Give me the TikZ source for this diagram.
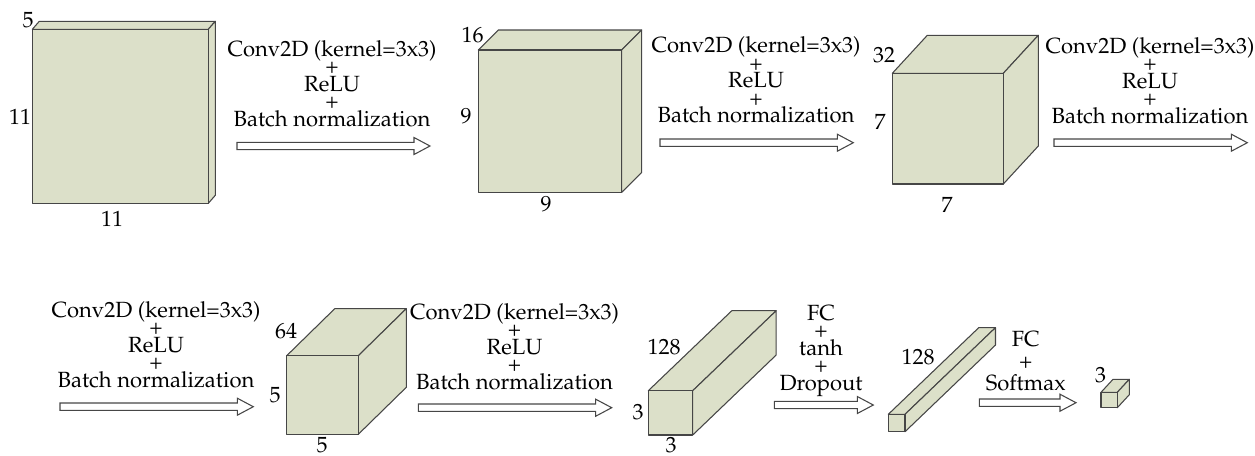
\documentclass[tikz,border=0pt]{standalone}
\usepackage[T1]{fontenc}
\usepackage{mathpazo}
\definecolor{boxfill}{RGB}{220,224,201}
\definecolor{edgegrey}{RGB}{70,70,70}
\tikzset{
  face/.style={fill=boxfill, draw=edgegrey, line width=0.8pt, line join=round},
  lbl/.style={font=\fontsize{16.5}{13.1}\selectfont, inner sep=0pt, align=center, anchor=south},
  lblwide/.style={lbl, font=\fontsize{16.5}{16.5}\selectfont},
  num/.style={font=\fontsize{16.5}{18}\selectfont, inner sep=0pt},
  fat/.style={fill=white, draw=edgegrey, line width=0.8pt, line join=miter}
}
% x y w h dx up
\newcommand\cuboid[6]{%
  \filldraw[face] (#1,#2) -- ++(#5,-#6) -- ++(#3,0) -- ++(-#5,#6) -- cycle;
  \filldraw[face] (#1+#3,#2) -- ++(#5,-#6) -- ++(0,#4) -- ++(-#5,#6) -- cycle;
  \filldraw[face] (#1,#2) rectangle ++(#3,#4);
}
% x1 x2 y
\newcommand\fatarrow[3]{%
  \draw[fat] (#1,#3-3.7) -- (#2-16,#3-3.7) -- (#2-16,#3-8.5) -- (#2,#3)
    -- (#2-16,#3+8.5) -- (#2-16,#3+3.7) -- (#1,#3+3.7) -- cycle;
}
\begin{document}
\lineskiplimit=-20pt
\begin{tikzpicture}[x=0.75pt,y=-0.75pt]
\useasboundingbox (0,0) rectangle (1255,455);

% ---- row 1 ----
\cuboid{32.3}{29.3}{176}{174}{7}{8}
\node[num] (c1d) at (28,20) {5};
\node[num] (c1h) at (20,117) {11};
\node[num] (c1w) at (112,219) {11};

\fatarrow{237}{430}{146}
\node[lbl] (l1) at (332,127) {Conv2D (kernel=3x3)\\+\\ReLU\\+\\Batch normalization};

\cuboid{478.3}{50}{143.4}{142.3}{20}{20}
\node[num] (c2d) at (472.5,35) {16};
\node[num] (c2h) at (466,116) {9};
\node[num] (c2w) at (546,204) {9};

\fatarrow{660}{853.3}{142.7}
\node[lbl] (l2) at (756,123.5) {Conv2D (kernel=3x3)\\+\\ReLU\\+\\Batch normalization};

\cuboid{892.3}{73.3}{111}{110.7}{35}{38}
\node[num] (c3d) at (884,55) {32};
\node[num] (c3h) at (880,122) {7};
\node[num] (c3w) at (947,205) {7};

\fatarrow{1054}{1247.3}{142.7}
\node[lbl] (l3) at (1150,124) {Conv2D (kernel=3x3)\\+\\ReLU\\+\\Batch normalization};

% ---- row 2 ----
\fatarrow{60}{253.3}{406.7}
\node[lbl] (l4) at (156,388) {Conv2D (kernel=3x3)\\+\\ReLU\\+\\Batch normalization};

\cuboid{286.7}{355.7}{71.6}{78.6}{48}{47}
\node[num] (c4d) at (286,331) {64};
\node[num] (c4h) at (275,395) {5};
\node[num] (c4w) at (322,445.5) {5};

\fatarrow{418.3}{611.7}{407.7}
\node[lbl] (l5) at (514.5,390) {Conv2D (kernel=3x3)\\+\\ReLU\\+\\Batch normalization};

\cuboid{648.3}{390.7}{44.4}{44.3}{83.5}{80}
\node[num] (c5d) at (664,347.5) {128};
\node[num] (c5h) at (638,412.5) {3};
\node[num] (c5w) at (671,445.5) {3};

\fatarrow{774.3}{873.3}{405}
\node[lbl] (l6) at (821,396.5) {FC\\+\\tanh\\+\\Dropout};

\cuboid{888.3}{414.3}{16.7}{17.4}{90.5}{86.7}
\node[num] (c6d) at (918,357) {128};

\fatarrow{979.3}{1076}{402.7}
\node[lblwide] (l7) at (1025.7,391) {FC\\+\\Softmax};

\cuboid{1101}{392.3}{16.3}{15.4}{12}{13}
\node[num] (c7d) at (1100.5,374.7) {3};
\end{tikzpicture}
\end{document}
